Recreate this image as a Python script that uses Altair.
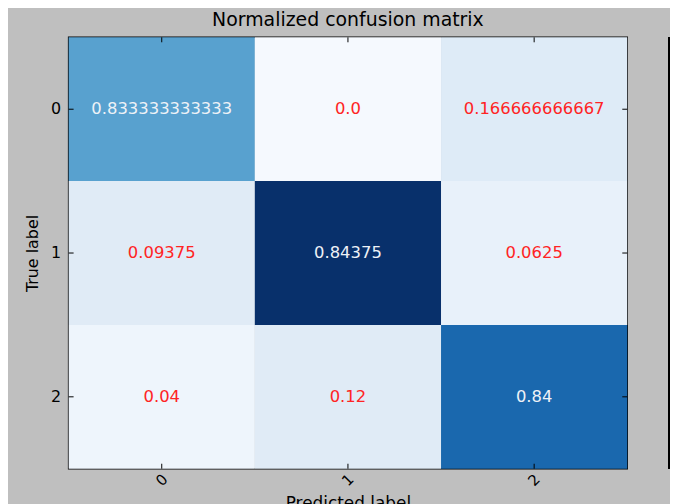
import altair as alt
import pandas as pd

classes = ["0", "1", "2"]
cell_true = ["0", "0", "0", "1", "1", "1", "2", "2", "2"]
cell_pred = ["0", "1", "2", "0", "1", "2", "0", "1", "2"]
cell_value = [0.833333333333, 0.0, 0.166666666667,
              0.09375, 0.84375, 0.0625,
              0.04, 0.12, 0.84]
cell_text = ["0.833333333333", "0.0", "0.166666666667",
             "0.09375", "0.84375", "0.0625",
             "0.04", "0.12", "0.84"]
cell_color = ["#58a1cf", "#f5f9fe", "#deebf7",
              "#e0ebf6", "#08306b", "#e8f1fa",
              "#eef5fc", "#e0ebf6", "#1a68ae"]

df = pd.DataFrame({"true": cell_true, "pred": cell_pred,
                   "value": cell_value, "label": cell_text})
ticks = pd.DataFrame({"true": classes, "pred": classes})

W, H = 562, 434
FONT = "DejaVu Sans"

xscale = alt.Scale(domain=classes, paddingInner=0, paddingOuter=0)
yscale = alt.Scale(domain=classes, paddingInner=0, paddingOuter=0)

x_enc = alt.X("pred:O", scale=xscale, title="Predicted label",
              axis=alt.Axis(labelAngle=-45, labelAlign="center", labelBaseline="middle",
                            labelPadding=11, labelFontSize=15, labelFont=FONT, labelColor="black",
                            ticks=False, domain=False, grid=False,
                            titleFont=FONT, titleFontSize=17, titleFontWeight="normal",
                            titleColor="black", titlePadding=7))
y_enc = alt.Y("true:O", scale=yscale, title="True label",
              axis=alt.Axis(labelAngle=0, labelPadding=8, labelFontSize=16, labelFont=FONT,
                            labelColor="black", ticks=False, domain=False, grid=False,
                            titleFont=FONT, titleFontSize=16, titleFontWeight="normal",
                            titleColor="black", titlePadding=10))

cells = alt.Chart(df).mark_rect().encode(
    x=x_enc, y=y_enc,
    color=alt.Color("label:N", scale=alt.Scale(domain=cell_text, range=cell_color), legend=None),
)

texts = alt.Chart(df).mark_text(font=FONT, fontSize=16.5).encode(
    x="pred:O", y="true:O", text="label:N",
    color=alt.condition(alt.datum.value > 0.42, alt.value("#eef2f7"), alt.value("#ff2424")),
)

tick_b = alt.Chart(ticks).mark_rule(color="black", strokeWidth=1).encode(
    x="pred:O", y=alt.value(H - 5), y2=alt.value(H))
tick_t = alt.Chart(ticks).mark_rule(color="black", strokeWidth=1).encode(
    x="pred:O", y=alt.value(0), y2=alt.value(5))
tick_l = alt.Chart(ticks).mark_rule(color="black", strokeWidth=1).encode(
    y="true:O", x=alt.value(0), x2=alt.value(5))
tick_r = alt.Chart(ticks).mark_rule(color="black", strokeWidth=1).encode(
    y="true:O", x=alt.value(W - 5), x2=alt.value(W))

colorbar_edge = alt.Chart(ticks).mark_rule(color="black", strokeWidth=2).encode(
    x=alt.value(604), y=alt.value(0), y2=alt.value(H))

chart = alt.layer(cells, texts, tick_b, tick_t, tick_l, tick_r, colorbar_edge).properties(
    width=W, height=H,
    title=alt.TitleParams("Normalized confusion matrix", font=FONT, fontSize=19,
                          fontWeight="normal", color="black", offset=6),
    autosize=alt.AutoSizeParams(type="none"),
    padding={"left": 61, "top": 28, "right": 43, "bottom": 34},
    background="#bfbfbf",
).configure_view(stroke="black", strokeWidth=1.5)

chart.save("out.html", embed_options={"renderer": "svg", "actions": False})
